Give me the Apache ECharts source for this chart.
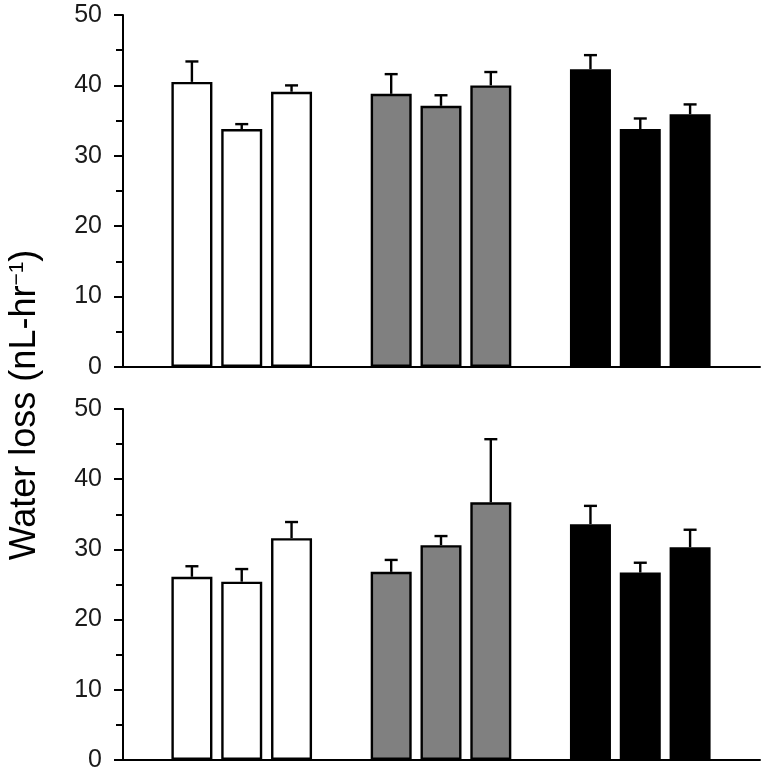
<!DOCTYPE html>
<html>
<head>
<meta charset="utf-8">
<script src="https://cdn.jsdelivr.net/npm/echarts@6/dist/echarts.min.js"></script>
<style>
html,body{margin:0;padding:0;background:#fff;}
#chart{width:766px;height:775px;}
</style>
</head>
<body>
<div id="chart"></div>
<script>
// ---- data ----
const slots = ['W1', 'W2', 'W3', '', 'G1', 'G2', 'G3', ' ', 'B1', 'B2', 'B3'];
const barSlots = ['W1', 'W2', 'W3', 'G1', 'G2', 'G3', 'B1', 'B2', 'B3'];
const barGroup = [0, 0, 0, 1, 1, 1, 2, 2, 2];
const topMeans = [40.5, 33.8, 39.1, 38.8, 37.1, 40.0, 42.3, 33.8, 35.9];
const topErrors = [2.9, 0.7, 0.9, 2.8, 1.5, 1.9, 2.0, 1.5, 1.4];
const bottomMeans = [26.1, 25.4, 31.6, 26.8, 30.6, 36.7, 33.6, 26.7, 30.3];
const bottomErrors = [1.5, 1.8, 2.3, 1.7, 1.3, 9.0, 2.6, 1.4, 2.5];
const yMin = 0, yMax = 50, yInterval = 10;
const yName = 'Water loss (nL-hr{sup|\u22121})';

// ---- styles ----
const groupColors = ['#ffffff', '#808080', '#000000'];
const FONT = '"Liberation Sans", Arial, sans-serif';

function barData(means) {
  return slots.map(s => {
    const i = barSlots.indexOf(s);
    if (i < 0) return null;
    return { value: means[i], itemStyle: { color: groupColors[barGroup[i]] } };
  });
}
function errData(means, errs) {
  return barSlots.map((s, i) => [s, means[i], means[i] + errs[i]]);
}
function renderErr(params, api) {
  const x = api.value(0);
  const p0 = api.coord([x, api.value(1)]);
  const p1 = api.coord([x, api.value(2)]);
  const half = 6.5;
  const st = { stroke: '#000', lineWidth: 2.4, fill: null };
  return {
    type: 'group',
    children: [
      { type: 'line', shape: { x1: p0[0], y1: p0[1], x2: p1[0], y2: p1[1] }, style: st },
      { type: 'line', shape: { x1: p1[0] - half, y1: p1[1], x2: p1[0] + half, y2: p1[1] }, style: st }
    ]
  };
}

const panels = [
  { top: 15, height: 352, means: topMeans, errs: topErrors },
  { top: 409, height: 351, means: bottomMeans, errs: bottomErrors }
];

const grid = [], xAxis = [], yAxis = [], series = [];
panels.forEach((p, k) => {
  const gA = grid.length;
  grid.push({ left: 123, width: 637, top: p.top, height: p.height });
  grid.push({ left: 167, width: 548, top: p.top, height: p.height });
  xAxis.push({
    gridIndex: gA, type: 'value', min: 0, max: 1,
    axisLine: { show: true, lineStyle: { color: '#000', width: 2 } },
    axisTick: { show: false }, axisLabel: { show: false }, splitLine: { show: false }
  });
  xAxis.push({ gridIndex: gA + 1, type: 'category', data: slots, show: false });
  yAxis.push({
    gridIndex: gA, type: 'value', min: yMin, max: yMax, interval: yInterval,
    axisLine: { show: true, lineStyle: { color: '#000', width: 2 } },
    axisTick: { show: true, length: 9, lineStyle: { color: '#000', width: 2 } },
    minorTick: { show: true, splitNumber: 2, length: 7, lineStyle: { color: '#000', width: 2 } },
    axisLabel: { show: true, fontSize: 25, fontFamily: FONT, color: '#1a1a1a', margin: 21 },
    splitLine: { show: false }, minorSplitLine: { show: false }
  });
  yAxis.push({ gridIndex: gA + 1, type: 'value', min: yMin, max: yMax, show: false });
  series.push({
    type: 'bar', xAxisIndex: gA + 1, yAxisIndex: gA + 1,
    data: barData(p.means), barWidth: 41,
    itemStyle: { borderColor: '#000', borderWidth: 2.4 },
    silent: true, animation: false, z: 2
  });
  series.push({
    type: 'custom', xAxisIndex: gA + 1, yAxisIndex: gA + 1,
    data: errData(p.means, p.errs), renderItem: renderErr,
    silent: true, animation: false, z: 1
  });
});

const chart = echarts.init(document.getElementById('chart'), null, { renderer: 'canvas' });
chart.setOption({
  backgroundColor: '#fff',
  animation: false,
  grid, xAxis, yAxis, series,
  graphic: [{
    type: 'text', x: 25, y: 405, rotation: Math.PI / 2,
    style: {
      text: yName, fill: '#000', fontSize: 36, fontFamily: FONT,
      align: 'center', verticalAlign: 'middle',
      rich: { sup: { fontSize: 21, fontFamily: FONT, fill: '#000', verticalAlign: 'top' } }
    }
  }]
});
</script>
</body>
</html>
